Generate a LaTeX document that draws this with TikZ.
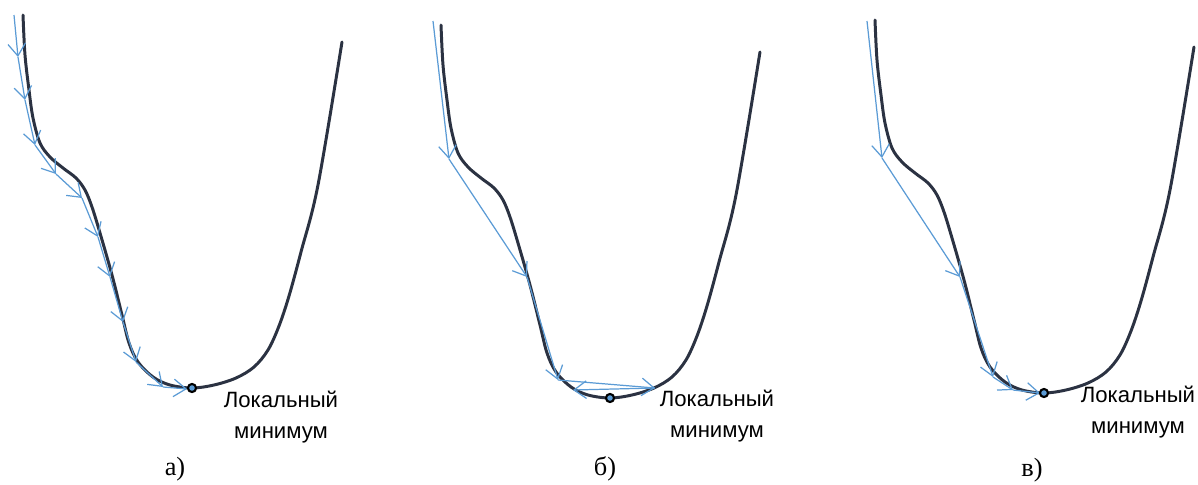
\documentclass[tikz,border=0pt]{standalone}
\usepackage{fontspec}
\setmainfont{Liberation Serif}
\setsansfont{Liberation Sans}
\usetikzlibrary{arrows.meta,calc}
\definecolor{curvec}{HTML}{2B3242}
\definecolor{stepc}{HTML}{5B9BD5}
\tikzset{
  valley/.style={curvec, line width=1.7pt, line cap=round},
  stepa/.style={stepc, line width=0.7pt, -{Straight Barb[length=7pt,width=10pt]}},
  minpt/.style={circle, draw=black, fill=stepc, line width=1.2pt, inner sep=0pt, minimum size=4.6pt},
  mintext/.style={font=\sffamily\fontsize{12.6}{17.5}\selectfont, align=center, inner sep=0pt},
  panel/.style={font=\fontsize{15}{18}\selectfont, inner sep=0pt},
}
\newcommand{\valleycurve}{%
  \draw[valley] plot[smooth, tension=0.55] coordinates {(23,15) (25,55) (29,90) (33,118)
    (40,143) (50,157) (63,168) (76,178) (85,190) (92,207) (100,233) (112,275) (122,315)
    (129,343) (138,362) (153,377) (170,385) (192,388) (214,385) (236,378) (254,367)
    (268,350) (279,326) (289,296) (301,252) (318,185) (342,42)};}

\begin{document}
\begin{tikzpicture}[x=0.02cm, y=-0.02cm]
  \useasboundingbox (0,0) rectangle (1198,484);
  % a) small steps
  \valleycurve
  \foreach \x/\y [count=\i from 0] in {14/15,18/57,25/100,35/145,56/174,82/198,98/237,
      110/277,123/322,136/362,163/387,187/389}
    \coordinate (a\i) at (\x,\y);
  \foreach \i [evaluate=\i as \j using int(\i+1)] in {0,...,10}
    \draw[stepa] (a\i) -- (a\j);
  \node[minpt] (ma) at (192,388) {};
  \node[mintext] (ta) at ($(ma)+(89,29)$) {Локальный\\минимум};
  \node[panel] (pa) at (175,469) {а)};
  % b) large steps
  \begin{scope}[shift={(418,10)}]
    \valleycurve
  \end{scope}
  \foreach \x/\y [count=\i from 0] in {433/21,449/159,527/277,558/380,655/388,573/390}
    \coordinate (b\i) at (\x,\y);
  \foreach \i [evaluate=\i as \j using int(\i+1)] in {0,...,4}
    \draw[stepa] (b\i) -- (b\j);
  \node[minpt] (mb) at (610,398) {};
  \node[mintext] (tb) at ($(mb)+(107,18)$) {Локальный\\минимум};
  \node[panel] (pb) at (605,469) {б)};
  % c) adaptive steps
  \begin{scope}[shift={(852,5)}]
    \valleycurve
  \end{scope}
  \foreach \x/\y [count=\i from 0] in {867/21,882/158,960/277,993/377,1013/390,1040/393}
    \coordinate (c\i) at (\x,\y);
  \foreach \i [evaluate=\i as \j using int(\i+1)] in {0,...,4}
    \draw[stepa] (c\i) -- (c\j);
  \node[minpt] (mc) at (1044,393) {};
  \node[mintext] (tc) at ($(mc)+(94,19)$) {Локальный\\минимум};
  \node[panel] (pc) at (1032,470) {в)};
\end{tikzpicture}
\end{document}
